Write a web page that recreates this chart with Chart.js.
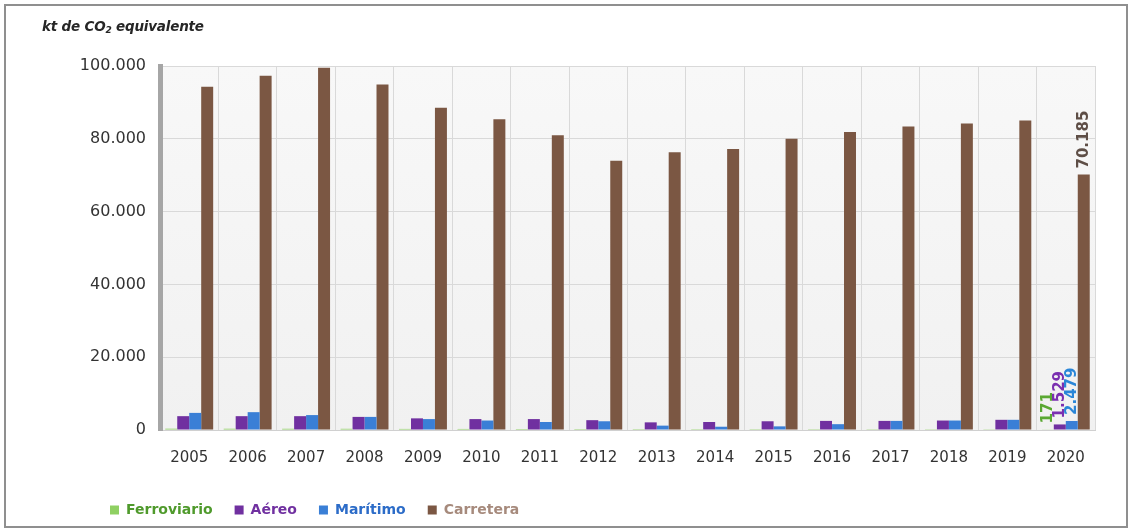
<!DOCTYPE html>
<html>
<head>
<meta charset="utf-8">
<script src="https://cdn.jsdelivr.net/npm/chart.js@4.4.1/dist/chart.umd.min.js"></script>
<style>
  html, body { margin: 0; padding: 0; background: #ffffff; }
  #wrap { position: relative; width: 1134px; height: 532px; overflow: hidden; }
  #chart { position: absolute; left: 0; top: 0; }
  #frame { position: absolute; left: 4px; top: 4px; width: 1124px; height: 524px; box-sizing: border-box; border: 2px solid #8f8f8f; pointer-events: none; }
  #ytitle { position: absolute; left: 42px; top: 18px; font-family: "DejaVu Sans", sans-serif; font-style: italic; font-weight: bold; font-size: 13.5px; color: #262626; letter-spacing: -0.2px; }
  #ytitle sub { font-size: 9px; vertical-align: -2px; }
</style>
</head>
<body>
<div id="wrap">
  <canvas id="chart" width="1134" height="532"></canvas>
  <div id="ytitle">kt de CO<sub>2</sub> equivalente</div>
  <div id="frame"></div>
</div>
<script>
const years = ['2005','2006','2007','2008','2009','2010','2011','2012','2013','2014','2015','2016','2017','2018','2019','2020'];
const ferroviario = [360, 350, 340, 330, 300, 290, 280, 260, 250, 240, 235, 230, 220, 215, 205, 171];
const aereo       = [3800, 3800, 3800, 3600, 3200, 3000, 3000, 2700, 2100, 2200, 2400, 2500, 2500, 2600, 2800, 1529];
const maritimo    = [4700, 4900, 4100, 3600, 3000, 2600, 2200, 2400, 1200, 900, 1000, 1600, 2500, 2600, 2800, 2479];
const carretera   = [94300, 97300, 99500, 94900, 88500, 85400, 81000, 74000, 76300, 77200, 80000, 81900, 83400, 84200, 85000, 70185];
const yTicks = [0, 20000, 40000, 60000, 80000, 100000];
const labelledIndex = 15;

function fmt(v) {
  return String(Math.round(v)).replace(/\B(?=(\d{3})+(?!\d))/g, '.');
}

const seriesStyle = [
  { label: 'Ferroviario', data: ferroviario, color: '#8fd062', text: '#4f9a2c', labelColor: '#5aa832' },
  { label: 'Aéreo',       data: aereo,       color: '#7030a0', text: '#7030a0', labelColor: '#7a2fb0' },
  { label: 'Marítimo',    data: maritimo,    color: '#3a7fd6', text: '#2c6cc8', labelColor: '#2a86d8' },
  { label: 'Carretera',   data: carretera,   color: '#7b5743', text: '#a68a7c', labelColor: '#5e4e46' }
];

const areaBg = {
  id: 'areaBg',
  beforeDraw(chart) {
    const { ctx, chartArea: a } = chart;
    ctx.save();
    const g = ctx.createLinearGradient(0, a.top, 0, a.bottom);
    g.addColorStop(0, '#f8f8f8');
    g.addColorStop(1, '#f1f1f1');
    ctx.fillStyle = g;
    ctx.fillRect(a.left, a.top, a.right - a.left, a.bottom - a.top);
    ctx.restore();
  }
};

const legendShift = {
  id: 'legendShift',
  afterLayout(chart) {
    if (chart.legend) {
      chart.legend.left += 10;
      chart.legend.right += 10;
    }
  }
};

const lastLabels = {
  id: 'lastLabels',
  afterDatasetsDraw(chart) {
    const { ctx } = chart;
    ctx.save();
    ctx.font = 'bold 15px "DejaVu Sans", sans-serif';
    ctx.textAlign = 'left';
    ctx.textBaseline = 'middle';
    chart.data.datasets.forEach((ds, i) => {
      const el = chart.getDatasetMeta(i).data[labelledIndex];
      if (!el) return;
      ctx.save();
      ctx.translate(el.x, el.y - 6);
      ctx.rotate(-Math.PI / 2);
      ctx.fillStyle = seriesStyle[i].labelColor;
      ctx.fillText(fmt(ds.data[labelledIndex]), 0, 0);
      ctx.restore();
    });
    ctx.restore();
  }
};

new Chart(document.getElementById('chart'), {
  type: 'bar',
  data: {
    labels: years,
    datasets: seriesStyle.map(s => ({
      label: s.label,
      data: s.data,
      backgroundColor: s.color,
      borderWidth: 0,
      categoryPercentage: 0.82,
      barPercentage: 1.0
    }))
  },
  options: {
    responsive: false,
    animation: false,
    layout: { padding: { left: 78, right: 39, top: 66, bottom: 5 } },
    plugins: {
      title: { display: false },
      tooltip: { enabled: false },
      legend: {
        position: 'bottom',
        align: 'start',
        labels: {
          boxWidth: 9,
          boxHeight: 9,
          padding: 22,
          font: { family: '"DejaVu Sans", sans-serif', size: 14, weight: 'bold' },
          generateLabels(chart) {
            return chart.data.datasets.map((ds, i) => ({
              text: ds.label,
              fillStyle: seriesStyle[i].color,
              strokeStyle: seriesStyle[i].color,
              lineWidth: 0,
              fontColor: seriesStyle[i].text,
              hidden: false,
              datasetIndex: i
            }));
          }
        }
      }
    },
    scales: {
      x: {
        grid: { display: true, color: '#d9d9d9', drawTicks: false, offset: true },
        border: { display: true, color: '#d0d0d0' },
        ticks: { color: '#333333', padding: 19, font: { family: '"DejaVu Sans", sans-serif', size: 15 } },
        afterFit(scale) { scale.height = 51; }
      },
      y: {
        min: 0,
        max: 100000,
        afterBuildTicks(scale) { scale.ticks = yTicks.map(v => ({ value: v })); },
        grid: { color: '#d9d9d9', drawTicks: false },
        border: { display: true, color: '#a6a6a6', width: 5 },
        ticks: {
          color: '#333333',
          padding: 14,
          font: { family: '"DejaVu Sans", sans-serif', size: 16 },
          callback: v => fmt(v)
        },
        afterFit(scale) { scale.width = 82; }
      }
    }
  },
  plugins: [areaBg, legendShift, lastLabels]
});
</script>
</body>
</html>
